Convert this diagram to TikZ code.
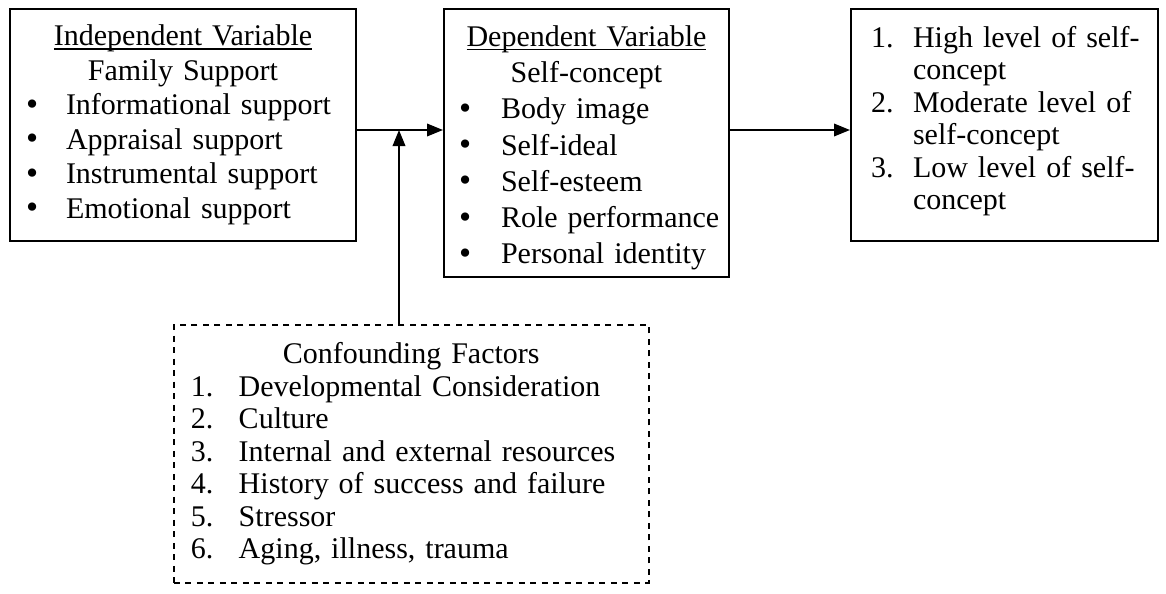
\documentclass[tikz,border=0pt]{standalone}
\usepackage{fontspec}
\setmainfont{Liberation Serif}
\usetikzlibrary{arrows.meta}
\newcommand{\ulvar}[1]{\setbox0\hbox{#1}\rlap{\rule[-1.6pt]{\wd0}{0.6pt}}\box0}
\newcommand{\bul}{\raisebox{-0.2pt}{\scalebox{1.15}{•}}}
\tikzset{
  varbox/.style={draw, line width=0.8pt, anchor=north west, align=left,
    inner ysep=0pt, font=\fontsize{12}{13.8}\selectfont},
  factorbox/.style={varbox, line width=0.6pt, dash pattern=on 2.4pt off 2.2pt},
  link/.style={line width=0.8pt, -{Triangle[length=6.4pt,width=5pt]}}
}
\begin{document}
\begin{tikzpicture}[x=0.4pt, y=-0.4pt]
  \useasboundingbox (0,0) rectangle (1166,593);
  % independent variable
  \node[varbox, minimum width=138.4pt, minimum height=92.8pt, inner xsep=6.4pt,
    text width=125.6pt] (ivbox) at (9,8)
    {\makebox[\linewidth]{\ulvar{Independent Variable}}\\
     \makebox[\linewidth]{Family Support}\\
     \makebox[16pt][l]{\bul}\mbox{Informational support}\\
     \makebox[16pt][l]{\bul}\mbox{Appraisal support}\\
     \makebox[16pt][l]{\bul}\mbox{Instrumental support}\\
     \makebox[16pt][l]{\bul}\mbox{Emotional support}};
  % dependent variable
  \node[varbox, minimum width=114pt, minimum height=107.2pt, inner xsep=6pt,
    text width=102pt, font=\fontsize{12}{14.5}\selectfont] (dvbox) at (443,8)
    {\rule{0pt}{12.2pt}\makebox[\linewidth]{\ulvar{Dependent Variable}}\\
     \makebox[\linewidth]{Self-concept}\\
     \makebox[16.8pt][l]{\bul}\mbox{Body image}\\
     \makebox[16.8pt][l]{\bul}\mbox{Self-ideal}\\
     \makebox[16.8pt][l]{\bul}\mbox{Self-esteem}\\
     \makebox[16.8pt][l]{\bul}\mbox{Role performance}\\
     \makebox[16.8pt][l]{\bul}\mbox{Personal identity}};
  % outcome levels
  \node[varbox, minimum width=122.8pt, minimum height=92.8pt, inner xsep=8pt,
    text width=106.8pt, font=\fontsize{12}{13}\selectfont] (levelbox) at (850,8)
    {\makebox[16.8pt][l]{1.}\mbox{High level of self-}\\
     \hspace*{16.8pt}concept\\
     \makebox[16.8pt][l]{2.}\mbox{Moderate level of}\\
     \hspace*{16.8pt}self-concept\\
     \makebox[16.8pt][l]{3.}\mbox{Low level of self-}\\
     \hspace*{16.8pt}concept\rule[-5.6pt]{0pt}{0pt}};
  % confounding factors
  \node[factorbox, minimum width=190pt, minimum height=103.2pt, inner xsep=6.8pt,
    text width=176.4pt, font=\fontsize{12}{13}\selectfont] (cfbox) at (173,324)
    {\makebox[\linewidth]{Confounding Factors}\\
     \makebox[19.2pt][l]{1.}\mbox{Developmental Consideration}\\
     \makebox[19.2pt][l]{2.}\mbox{Culture}\\
     \makebox[19.2pt][l]{3.}\mbox{Internal and external resources}\\
     \makebox[19.2pt][l]{4.}\mbox{History of success and failure}\\
     \makebox[19.2pt][l]{5.}\mbox{Stressor}\\
     \makebox[19.2pt][l]{6.}\mbox{Aging, illness, trauma}};
  \coordinate (join) at (399,130);
  \draw[link] (ivbox.east |- join) -- (dvbox.west |- join);
  \draw[link] (cfbox.north -| join) -- (join);
  \draw[link] (dvbox.east |- join) -- (levelbox.west |- join);
\end{tikzpicture}
\end{document}
